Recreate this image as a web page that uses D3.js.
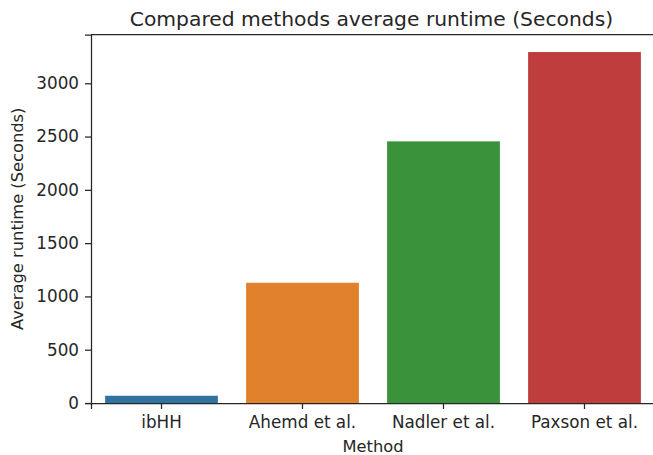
<html>
<head>
<meta charset="UTF-8"/>
<script src="https://d3js.org/d3.v7.min.js"></script>
<style>
body{ margin:0; background:#fff; }
svg{ font-family:'DejaVu Sans', sans-serif; }
.tick text{ fill:#262626; font-size:16.8px; font-family:'DejaVu Sans', sans-serif; }
.tick line, .domain{ stroke:#262626; stroke-width:1.25; }
</style>
</head>
<body>
<svg id='plot' width=653 height=455></svg>
<script>
'use strict';
var methods = ['ibHH', 'Ahemd et al.', 'Nadler et al.', 'Paxson et al.'];
var runtimes = [68, 1128, 2455, 3293];
var colors = ['#3274a1', '#e1812c', '#3a923a', '#c03d3e'];
var yTicks = [0, 500, 1000, 1500, 2000, 2500, 3000];

var x0 = 91, x1 = 655, yTop = 34.5, yBot = 403;
var svg = d3.select('#plot');

var sx = d3.scaleBand().domain(methods).range([x0, x1]).paddingInner(0.2).paddingOuter(0.1);
var sy = d3.scaleLinear().domain([0, d3.max(runtimes) * 1.05]).range([yBot, yTop]);

svg.selectAll('rect.bar').data(methods).enter()
    .append('rect')
    .attr('class', 'bar')
    .attr('x', function(d){ return sx(d); })
    .attr('width', sx.bandwidth())
    .attr('y', function(d, i){ return sy(runtimes[i]); })
    .attr('height', function(d, i){ return yBot - sy(runtimes[i]); })
    .attr('fill', function(d, i){ return colors[i]; });

var xAxis = d3.axisBottom(sx).tickSizeOuter(0).tickSize(6).tickPadding(7);
var yAxis = d3.axisLeft(sy).tickValues(yTicks).tickFormat(d3.format('d'))
    .tickSizeOuter(0).tickSize(6).tickPadding(6);

svg.append('g').attr('transform', 'translate(0,' + yBot + ')').call(xAxis);
svg.append('g').attr('transform', 'translate(' + x0 + ',0)').call(yAxis);

// frame top and right
svg.append('path')
    .attr('d', 'M' + x0 + ',' + yTop + 'H' + x1 + 'V' + yBot)
    .attr('fill', 'none').attr('stroke', '#262626').attr('stroke-width', 1.25);

svg.append('text')
    .attr('x', 371.5).attr('y', 26)
    .attr('text-anchor', 'middle')
    .attr('fill', '#262626').style('font-size', '20.3px')
    .text('Compared methods average runtime (Seconds)');

svg.append('text')
    .attr('x', (x0 + x1) / 2).attr('y', 452)
    .attr('text-anchor', 'middle')
    .attr('fill', '#262626').style('font-size', '16.3px')
    .text('Method');

svg.append('text')
    .attr('transform', 'translate(23,' + (yTop + yBot) / 2 + ') rotate(-90)')
    .attr('text-anchor', 'middle')
    .attr('fill', '#262626').style('font-size', '16.3px')
    .text('Average runtime (Seconds)');
</script>
</body>
</html>
